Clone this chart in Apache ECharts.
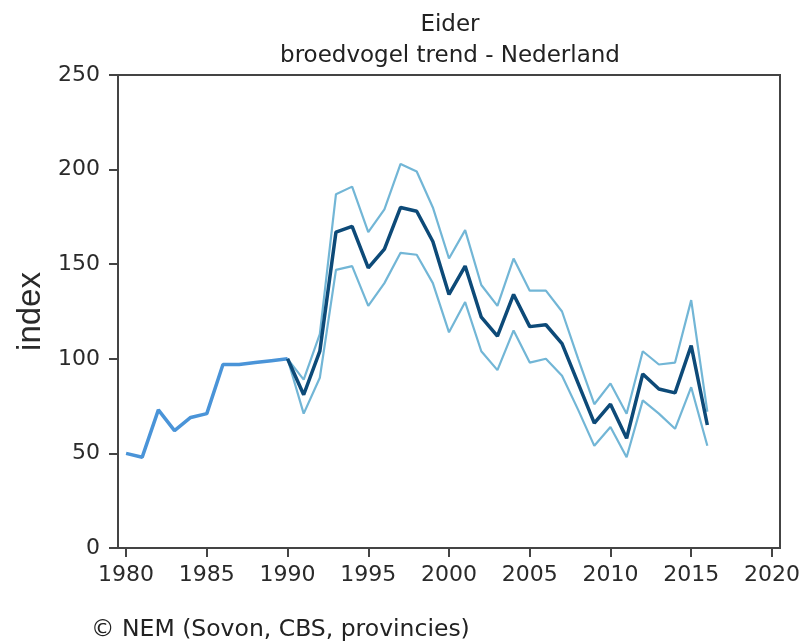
<!DOCTYPE html>
<html>
<head>
<meta charset="utf-8">
<script src="https://cdn.jsdelivr.net/npm/echarts@6/dist/echarts.min.js"></script>
<style>html,body{margin:0;padding:0;background:#fff}#c{width:804px;height:643px}</style>
</head>
<body>
<div id="c"></div>
<script>
const earlyYears = [1980,1981,1982,1983,1984,1985,1986,1987,1988,1989,1990];
const earlyIndex = [50,48,73,62,69,71,97,97,98,99,100];
const trendYears = [1990,1991,1992,1993,1994,1995,1996,1997,1998,1999,2000,2001,2002,2003,2004,2005,2006,2007,2008,2009,2010,2011,2012,2013,2014,2015,2016];
const trendIndex = [100,81,104,167,170,148,158,180,178,162,134,149,122,112,134,117,118,108,87,66,76,58,92,84,82,107,65];
const upperIndex = [100,89,113,187,191,167,179,203,199,180,153,168,139,128,153,136,136,125,100,76,87,71,104,97,98,131,72];
const lowerIndex = [100,71,90,147,149,128,140,156,155,140,114,130,104,94,115,98,100,91,73,54,64,48,78,71,63,85,54];
const xTicks = [1980,1985,1990,1995,2000,2005,2010,2015,2020];
const titleText = 'Eider\nbroedvogel trend - Nederland';
const footerText = '© NEM (Sovon, CBS, provincies)';

const zip = (xs, ys) => xs.map((x, i) => [x, ys[i]]);
const chart = echarts.init(document.getElementById('c'), null, {renderer: 'canvas'});
const txt = '#2a2a2a';
chart.setOption({
  animation: false,
  backgroundColor: '#fff',
  title: [{
    text: titleText,
    left: 445, top: 5, textAlign: 'center',
    textStyle: {fontFamily: 'DejaVu Sans', fontSize: 23, fontWeight: 'normal', color: '#222', lineHeight: 31}
  }, {
    text: footerText,
    left: 86, top: 613,
    textStyle: {fontFamily: 'DejaVu Sans', fontSize: 23.5, fontWeight: 'normal', color: '#222'}
  }],
  grid: {left: 118, right: 24, top: 75, bottom: 95, show: true, borderColor: '#444', borderWidth: 2, containLabel: false},
  xAxis: {
    type: 'value', min: 1979.5, max: 2020.5,
    axisLine: {show: true, lineStyle: {color: '#444', width: 2}},
    axisTick: {show: true, customValues: xTicks, length: 9, lineStyle: {color: '#444', width: 2}},
    axisLabel: {customValues: xTicks, formatter: v => String(v), color: txt, fontFamily: 'DejaVu Sans', fontSize: 22, margin: 16},
    splitLine: {show: false}
  },
  yAxis: {
    type: 'value', min: 0, max: 250, interval: 50,
    name: 'index', nameLocation: 'middle', nameGap: 70,
    nameTextStyle: {color: txt, fontFamily: 'Liberation Sans', fontSize: 33},
    axisLine: {show: true, lineStyle: {color: '#444', width: 2}},
    axisTick: {show: true, length: 9, lineStyle: {color: '#444', width: 2}},
    axisLabel: {color: txt, fontFamily: 'DejaVu Sans', fontSize: 22, margin: 18},
    splitLine: {show: false}
  },
  series: [
    {type: 'line', data: zip(earlyYears, earlyIndex), showSymbol: false, lineStyle: {color: '#4a94d8', width: 3.5}, z: 3},
    {type: 'line', data: zip(trendYears, upperIndex), showSymbol: false, lineStyle: {color: '#72b6d6', width: 2.2}, z: 2},
    {type: 'line', data: zip(trendYears, lowerIndex), showSymbol: false, lineStyle: {color: '#72b6d6', width: 2.2}, z: 2},
    {type: 'line', data: zip(trendYears, trendIndex), showSymbol: false, lineStyle: {color: '#0d4a78', width: 3.5}, z: 4}
  ]
});
</script>
</body>
</html>
